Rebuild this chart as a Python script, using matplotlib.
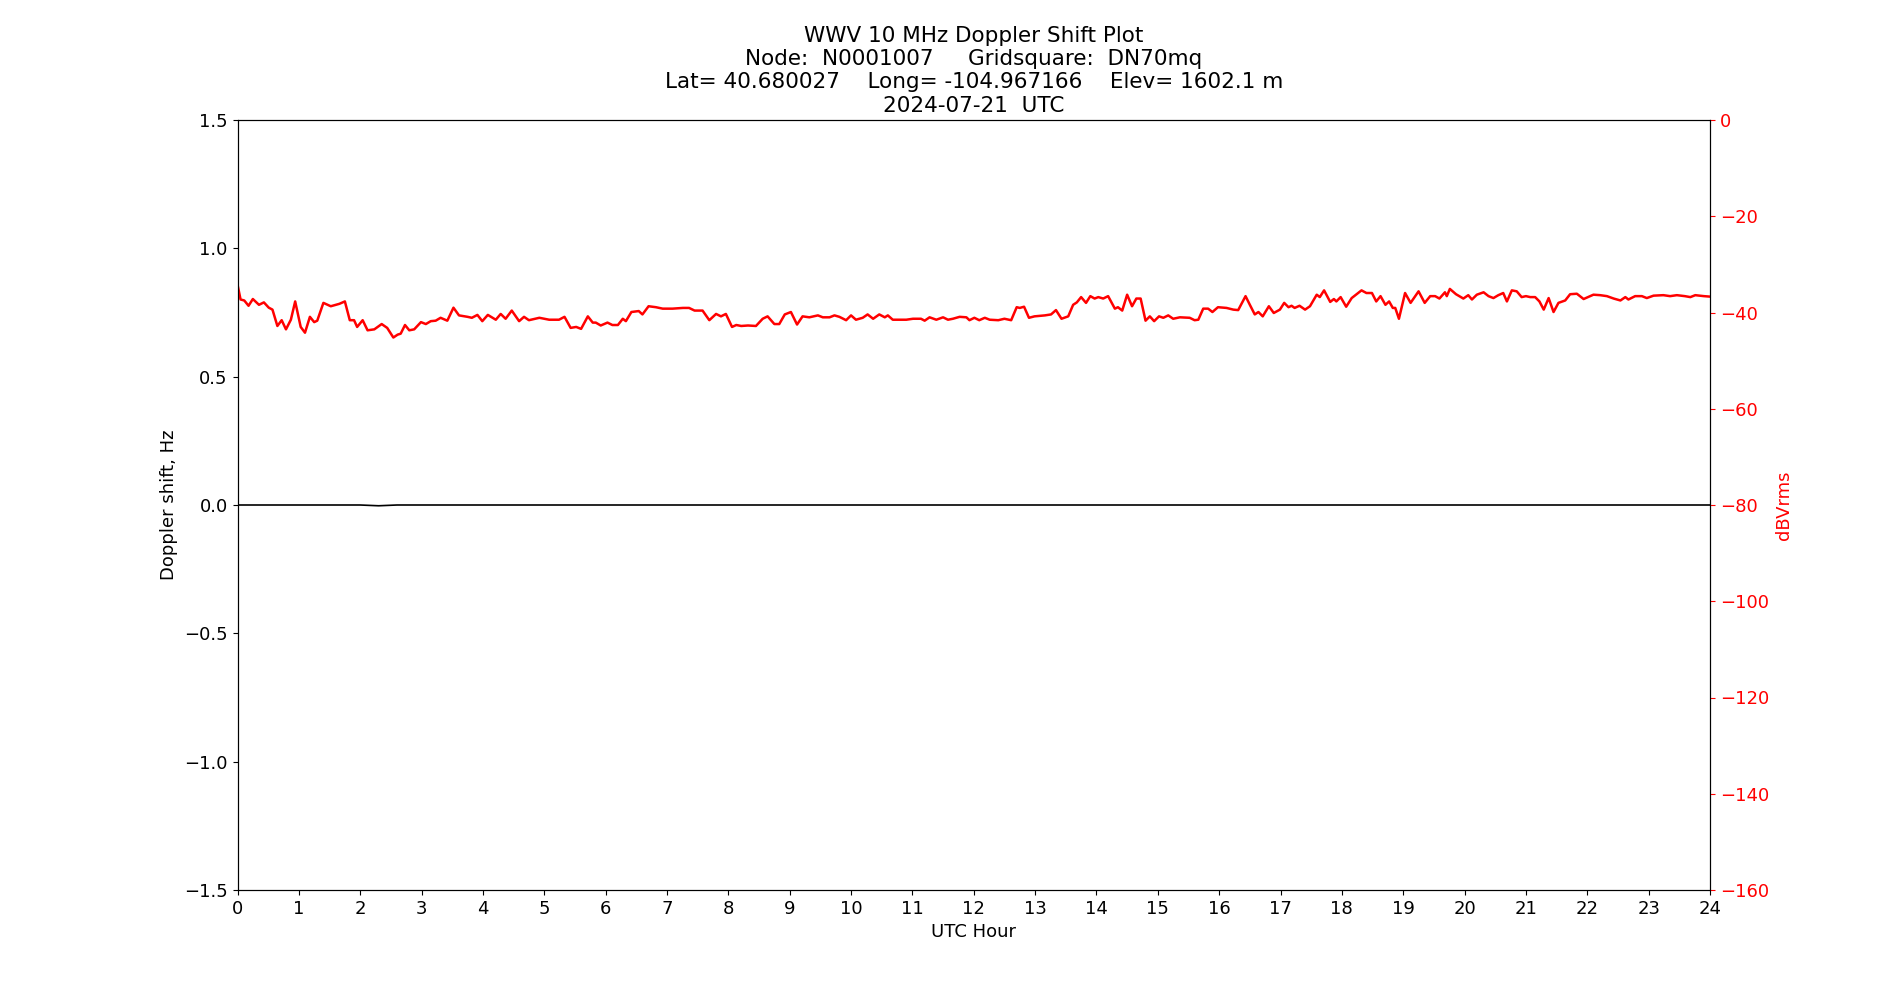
import matplotlib
matplotlib.use("Agg")
import matplotlib.pyplot as plt
import numpy as np

# UTC hours for the amplitude trace
hours = [0.00, 0.05, 0.11, 0.18, 0.25, 0.35, 0.43, 0.51, 0.57, 0.65, 0.72, 0.79, 0.87, 0.94,
         1.03, 1.10, 1.18, 1.25, 1.30, 1.40, 1.52, 1.66, 1.75, 1.83, 1.90, 1.95, 2.04, 2.12,
         2.23, 2.35, 2.44, 2.54, 2.61, 2.66, 2.73, 2.80, 2.88, 2.99, 3.07, 3.15, 3.23, 3.31,
         3.42, 3.52, 3.61, 3.75, 3.82, 3.91, 3.99, 4.08, 4.21, 4.29, 4.37, 4.47, 4.59, 4.67,
         4.75, 4.92, 5.08, 5.24, 5.33, 5.43, 5.52, 5.60, 5.71, 5.79, 5.84, 5.92, 6.03, 6.11,
         6.20, 6.28, 6.33, 6.42, 6.54, 6.60, 6.70, 6.82, 6.93, 7.09, 7.26, 7.36, 7.45, 7.58,
         7.69, 7.80, 7.88, 7.96, 8.06, 8.13, 8.21, 8.32, 8.45, 8.56, 8.64, 8.75, 8.83, 8.92,
         9.02, 9.12, 9.21, 9.32, 9.46, 9.54, 9.65, 9.73, 9.81, 9.92, 10.00, 10.08, 10.19, 10.27,
         10.36, 10.46, 10.55, 10.60, 10.68, 10.90, 11.01, 11.14, 11.20, 11.28, 11.39, 11.50,
         11.58, 11.66, 11.77, 11.88, 11.93, 12.01, 12.09, 12.18, 12.26, 12.40, 12.50, 12.61,
         12.70, 12.75, 12.82, 12.90, 12.99, 13.16, 13.26, 13.34, 13.43, 13.54, 13.62, 13.68,
         13.75, 13.83, 13.90, 13.97, 14.03, 14.11, 14.19, 14.30, 14.35, 14.42, 14.50, 14.58,
         14.65, 14.72, 14.80, 14.87, 14.94, 15.02, 15.09, 15.17, 15.25, 15.36, 15.52, 15.60,
         15.66, 15.74, 15.82, 15.89, 15.98, 16.12, 16.23, 16.31, 16.43, 16.50, 16.58, 16.64,
         16.71, 16.81, 16.89, 16.99, 17.06, 17.13, 17.18, 17.23, 17.31, 17.40, 17.48, 17.59,
         17.64, 17.71, 17.81, 17.87, 17.91, 17.98, 18.07, 18.16, 18.24, 18.32, 18.40, 18.49,
         18.56, 18.63, 18.71, 18.77, 18.83, 18.87, 18.93, 19.03, 19.12, 19.25, 19.35, 19.44,
         19.52, 19.59, 19.68, 19.71, 19.76, 19.86, 19.98, 20.06, 20.12, 20.20, 20.31, 20.39,
         20.47, 20.55, 20.63, 20.69, 20.77, 20.85, 20.93, 21.00, 21.07, 21.15, 21.22, 21.29,
         21.37, 21.45, 21.53, 21.64, 21.72, 21.83, 21.94, 22.10, 22.21, 22.32, 22.43, 22.54,
         22.62, 22.67, 22.78, 22.89, 22.97, 23.08, 23.24, 23.35, 23.46, 23.59, 23.68, 23.76,
         23.90, 24.00]

# Received amplitude, dBVrms
dbv = [-34.2, -37.3, -37.5, -38.6, -37.2, -38.4, -37.9, -39.0, -39.4, -42.8, -41.6, -43.5, -41.5, -37.7,
       -43.0, -44.2, -40.9, -42.0, -41.7, -38.0, -38.7, -38.2, -37.7, -41.6, -41.6, -43.0, -41.6, -43.7,
       -43.5, -42.4, -43.2, -45.2, -44.6, -44.4, -42.6, -43.7, -43.5, -42.0, -42.4, -41.8, -41.7, -41.1,
       -41.7, -39.0, -40.6, -40.9, -41.1, -40.5, -41.8, -40.5, -41.5, -40.3, -41.3, -39.6, -41.8, -40.9,
       -41.6, -41.1, -41.5, -41.5, -40.9, -43.2, -43.0, -43.4, -40.8, -42.1, -42.1, -42.7, -42.1, -42.6,
       -42.6, -41.3, -41.8, -39.9, -39.7, -40.4, -38.7, -38.9, -39.2, -39.2, -39.05, -39.05, -39.6, -39.6,
       -41.6, -40.3, -40.8, -40.3, -43.0, -42.6, -42.8, -42.7, -42.8, -41.3, -40.8, -42.4, -42.4, -40.4,
       -39.9, -42.5, -40.8, -41.0, -40.6, -41.0, -41.0, -40.6, -40.9, -41.6, -40.6, -41.5, -41.1, -40.4,
       -41.3, -40.4, -41.0, -40.6, -41.5, -41.5, -41.3, -41.3, -41.7, -41.0, -41.5, -41.0,
       -41.5, -41.3, -40.9, -41.0, -41.6, -41.1, -41.6, -41.1, -41.5, -41.6, -41.3, -41.6,
       -38.9, -39.05, -38.8, -41.1, -40.8, -40.6, -40.4, -39.5, -41.3, -40.8, -38.4, -37.9,
       -36.8, -38.0, -36.6, -37.1, -36.8, -37.1, -36.6, -39.2, -38.9, -39.6, -36.3, -38.7,
       -37.1, -37.1, -41.7, -40.8, -41.8, -40.8, -41.1, -40.6, -41.3, -41.0, -41.1, -41.6,
       -41.5, -39.2, -39.2, -39.9, -38.9, -39.05, -39.4, -39.5, -36.6, -38.4, -40.4, -39.9,
       -40.8, -38.7, -40.1, -39.4, -38.0, -38.9, -38.6, -39.05, -38.6, -39.4, -38.7, -36.3,
       -36.8, -35.4, -37.8, -37.2, -37.7, -36.8, -38.8, -37.0, -36.2, -35.4, -35.95, -35.95,
       -37.7, -36.6, -38.4, -37.7, -39.05, -39.05, -41.3, -35.95, -38.0, -35.6, -38.0, -36.6,
       -36.6, -37.1, -35.8, -36.6, -35.1, -36.2, -37.1, -36.4, -37.3, -36.3, -35.8, -36.6,
       -37.0, -36.4, -35.95, -37.7, -35.4, -35.6, -36.8, -36.6, -36.8, -36.8, -37.7, -39.4,
       -37.0, -39.9, -38.0, -37.5, -36.2, -36.1, -37.2, -36.3, -36.4, -36.6, -37.1, -37.5,
       -36.8, -37.3, -36.6, -36.6, -37.0, -36.5, -36.4, -36.6, -36.4, -36.6, -36.8, -36.4,
       -36.6, -36.7]

# Doppler shift trace (essentially flat near zero)
dop_hours = [0.0, 1.0, 2.0, 2.3, 2.6, 3.0, 6.0, 10.0, 14.0, 18.0, 22.0, 24.0]
dop_hz = [0.0, 0.0, 0.0, -0.003, 0.0, 0.0, 0.0, 0.0, 0.0, 0.0, 0.0, 0.0]

title_lines = ["WWV 10 MHz Doppler Shift Plot",
               "Node:  N0001007     Gridsquare:  DN70mq",
               "Lat= 40.680027    Long= -104.967166    Elev= 1602.1 m",
               "2024-07-21  UTC"]
x_ticks = list(range(0, 25))
y_ticks = [-1.5, -1.0, -0.5, 0.0, 0.5, 1.0, 1.5]
y2_ticks = [0, -20, -40, -60, -80, -100, -120, -140, -160]

plt.rcParams['font.family'] = ['DejaVu Sans']
fig = plt.figure(figsize=(19, 10), dpi=100)
ax = fig.add_subplot(111)
fig.subplots_adjust(left=0.125, right=0.9, top=0.88, bottom=0.11)

ax.plot(dop_hours, dop_hz, color='black', linewidth=1.2)
ax.set_xlim(0, 24)
ax.set_ylim(-1.5, 1.5)
ax.set_xticks(x_ticks)
ax.set_yticks(y_ticks)
ax.tick_params(labelsize=13)
ax.set_xlabel("UTC Hour", fontsize=13)
ax.set_ylabel("Doppler shift, Hz", fontsize=13)
ax.set_title("\n".join(title_lines), fontsize=15.5, linespacing=1.2)

ax2 = ax.twinx()
ax2.plot(hours, dbv, color='red', linewidth=1.8)
ax2.set_ylim(-160, 0)
ax2.set_yticks(y2_ticks)
ax2.tick_params(axis='y', colors='red', labelsize=13)
ax2.set_ylabel("dBVrms", color='red', fontsize=13)

fig.savefig("out.png", dpi=100)
